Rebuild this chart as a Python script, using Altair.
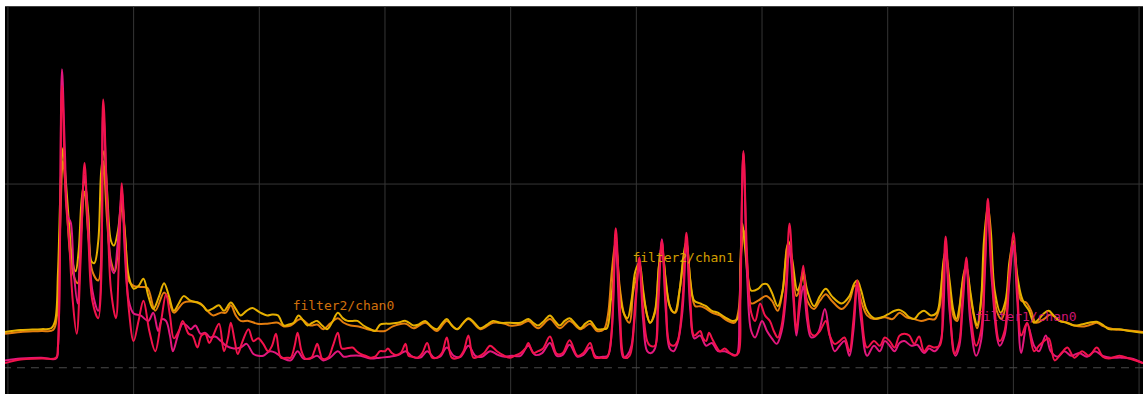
import altair as alt
import pandas as pd

# ---- filter1 / chan1 (crimson) ----
f1c1_bin = [-3, 13, 34, 49, 51, 55, 59, 62, 66, 70, 74, 78, 82, 86, 92, 97, 101, 105, 110, 113, 116, 119, 123,
            128, 133, 138, 144, 150, 156, 161, 165, 169, 174, 178, 184, 188, 193, 197, 201, 205, 209, 215, 220,
            224, 227, 231, 234, 239, 245, 250, 255, 260, 265, 269, 273, 278, 284, 288, 292, 295, 299, 303, 309,
            312, 315, 318, 320, 326, 331, 336, 340, 344, 351, 355, 359, 364, 369, 374, 379, 384, 387, 391, 395,
            400, 405, 408, 412, 417, 422, 427, 432, 437, 442, 447, 452, 459, 464, 469, 474, 479, 485, 491, 498,
            504, 511, 516, 522, 527, 530, 535, 540, 545, 552, 559, 565, 572, 580, 586, 593, 598, 604, 610, 614,
            619, 623, 628, 633, 638, 643, 647, 651, 654, 659, 662, 666, 670, 674, 678, 682, 687, 691, 695, 699,
            705, 708, 711, 714, 717, 721, 725, 730, 735, 740, 744, 746, 749, 753, 757, 761, 766, 771, 776, 780,
            784, 788, 792, 796, 800, 803, 806, 810, 814, 818, 822, 827, 833, 837, 842, 847, 852, 857, 861, 865,
            869, 875, 882, 888, 893, 898, 903, 908, 913, 918, 923, 928, 933, 938, 943, 949, 952, 955, 959, 964,
            969, 972, 976, 980, 986, 991, 995, 998, 1002, 1010, 1015, 1020, 1024, 1028, 1032, 1038, 1045, 1050,
            1055, 1060, 1066, 1073, 1079, 1086, 1094, 1101, 1109, 1115, 1121, 1132, 1142, 1156]
f1c1_lvl = [5, 9, 10, 11, 24, 307, 182, 143, 73, 37, 116, 223, 138, 73, 54, 292, 182, 84, 54, 116, 201, 138, 65,
            29, 51, 73, 40, 18, 51, 80, 57, 32, 40, 51, 37, 35, 22, 35, 37, 27, 35, 48, 18,
            32, 49, 29, 15, 29, 42, 29, 32, 26, 18, 24, 37, 11, 11, 11, 24, 38, 18, 10, 11,
            18, 26, 16, 10, 11, 24, 38, 21, 21, 22, 18, 15, 13, 11, 12, 18, 18, 21, 16, 14,
            16, 26, 13, 12, 11, 16, 27, 11, 11, 16, 33, 11, 11, 18, 35, 11, 12, 16, 24, 18,
            14, 11, 13, 16, 21, 27, 16, 18, 21, 34, 15, 16, 30, 13, 16, 27, 11, 11, 11, 29,
            152, 73, 11, 13, 51, 120, 62, 29, 24, 24, 62, 138, 73, 26, 24, 29, 73, 147, 73, 35,
            40, 32, 29, 38, 32, 24, 18, 21, 16, 13, 16, 73, 236, 116, 60, 51, 70, 57, 51, 40,
            33, 46, 84, 157, 84, 40, 73, 111, 62, 37, 35, 40, 51, 35, 26, 29, 33, 18, 51, 95,
            62, 22, 29, 24, 33, 29, 22, 35, 37, 35, 26, 34, 18, 24, 22, 24, 73, 143, 73, 15,
            29, 73, 120, 62, 24, 40, 116, 184, 105, 29, 40, 105, 147, 84, 35, 49, 18, 24,
            29, 32, 8, 16, 22, 11, 18, 13, 22, 12, 10, 13, 10, 5]

# ---- filter1 / chan0 (pink) ----
f1c0_bin = [-3, 13, 34, 49, 51, 55, 58, 61, 64, 67, 71, 74, 78, 82, 86, 92, 97, 101, 105, 108, 112, 116, 119,
            123, 128, 135, 143, 148, 153, 157, 161, 165, 168, 173, 178, 182, 186, 191, 196, 201, 206, 211, 217,
            222, 230, 237, 243, 250, 255, 260, 267, 273, 281, 288, 295, 301, 308, 315, 321, 328, 336, 342, 349,
            359, 369, 379, 389, 398, 405, 412, 420, 427, 434, 440, 447, 454, 461, 469, 476, 483, 491, 499, 506,
            513, 522, 530, 537, 544, 552, 559, 565, 572, 580, 586, 593, 599, 606, 611, 615, 619, 623, 627, 631,
            635, 639, 643, 647, 651, 655, 659, 662, 666, 670, 674, 678, 682, 687, 691, 695, 699, 705, 711, 717,
            723, 730, 737, 742, 745, 749, 753, 757, 761, 768, 773, 778, 783, 788, 792, 796, 800, 803, 806, 810,
            814, 818, 825, 832, 837, 842, 847, 852, 857, 861, 865, 869, 875, 882, 888, 893, 898, 903, 908, 913,
            920, 926, 933, 938, 944, 950, 955, 959, 965, 969, 972, 976, 980, 986, 991, 995, 998, 1002, 1010,
            1015, 1020, 1024, 1028, 1032, 1038, 1045, 1050, 1057, 1062, 1069, 1076, 1083, 1091, 1099, 1107,
            1115, 1123, 1134, 1144, 1156]
f1c0_lvl = [8, 10, 11, 10, 24, 325, 236, 165, 158, 105, 70, 138, 209, 149, 84, 62, 279, 182, 111, 103, 138, 192, 127,
            73, 59, 57, 51, 60, 40, 53, 51, 35, 18, 35, 48, 46, 42, 46, 37, 38, 33, 34, 29,
            24, 21, 22, 26, 15, 13, 13, 18, 16, 10, 8, 18, 10, 10, 13, 8, 11, 18, 12, 13,
            13, 10, 11, 12, 14, 18, 12, 11, 18, 11, 12, 22, 13, 12, 24, 13, 12, 18, 14, 12,
            13, 13, 24, 14, 16, 27, 13, 14, 25, 12, 14, 22, 12, 12, 13, 40, 138, 51, 11, 14,
            24, 73, 111, 51, 18, 16, 21, 73, 140, 62, 21, 18, 27, 62, 138, 62, 32, 35, 24, 27,
            18, 18, 15, 14, 62, 234, 95, 40, 33, 51, 40, 32, 26, 40, 73, 133, 73, 35, 62, 89,
            51, 33, 38, 64, 35, 18, 24, 29, 13, 40, 89, 51, 13, 24, 18, 29, 24, 18, 27, 29,
            24, 25, 16, 21, 18, 29, 133, 62, 13, 24, 62, 114, 51, 13, 29, 105, 176, 95, 24,
            35, 95, 133, 73, 16, 48, 24, 18, 35, 18, 12, 18, 13, 16, 12, 18,
            13, 11, 11, 10, 5]

# ---- filter2 / chan0 (orange) ----
f2c0_bin = [-3, 13, 34, 46, 50, 53, 56, 59, 63, 67, 71, 74, 78, 82, 86, 92, 97, 101, 105, 109, 113, 116, 120,
            123, 128, 135, 142, 150, 159, 164, 169, 179, 186, 196, 203, 209, 217, 222, 227, 232, 237, 245, 254,
            264, 275, 281, 288, 298, 308, 315, 321, 328, 336, 342, 349, 357, 366, 376, 384, 392, 405, 413, 425,
            437, 447, 457, 469, 481, 494, 506, 511, 522, 530, 540, 552, 562, 572, 583, 593, 600, 607, 611, 615,
            619, 623, 628, 633, 637, 643, 648, 654, 659, 663, 666, 671, 676, 680, 684, 691, 696, 700, 705, 710,
            717, 725, 733, 740, 744, 747, 750, 754, 757, 764, 772, 778, 784, 789, 794, 798, 803, 806, 810, 814,
            821, 827, 833, 839, 849, 857, 862, 865, 869, 875, 882, 893, 901, 908, 915, 923, 930, 938, 944, 949,
            952, 955, 959, 964, 967, 971, 976, 981, 987, 992, 995, 998, 1002, 1007, 1012, 1017, 1020, 1024, 1028,
            1032, 1037, 1042, 1047, 1055, 1062, 1071, 1079, 1086, 1096, 1103, 1109, 1116, 1126, 1137, 1147, 1156]
f2c0_lvl = [37, 39, 40, 41, 57, 149, 225, 192, 127, 100, 92, 138, 192, 143, 105, 95, 225, 160, 116, 105, 143, 176, 133,
            95, 89, 88, 87, 62, 82, 73, 60, 71, 72, 70, 62, 57, 60, 60, 68, 57, 51, 51, 48,
            48, 49, 45, 46, 53, 46, 47, 42, 48, 54, 49, 46, 45, 42, 40, 40, 45, 48, 43, 49,
            40, 51, 42, 53, 42, 49, 48, 46, 47, 51, 43, 53, 43, 51, 42, 48, 40, 42, 57, 105,
            138, 89, 57, 49, 84, 108, 73, 49, 60, 111, 133, 84, 62, 60, 84, 133, 84, 67, 67, 65,
            60, 57, 51, 49, 62, 127, 149, 95, 70, 73, 78, 73, 62, 84, 133, 116, 78, 84, 100, 73,
            64, 73, 80, 73, 64, 73, 89, 89, 73, 57, 53, 55, 53, 60, 55, 53, 51, 53, 53, 67,
            105, 122, 84, 53, 51, 84, 108, 73, 43, 84, 138, 171, 116, 62, 53, 73, 105, 133, 95,
            73, 71, 62, 49, 53, 58, 51, 49, 46, 45, 47, 49, 45, 42, 41, 40, 39]

# ---- filter2 / chan1 (gold) ----
f2c1_bin = [-3, 13, 34, 44, 48, 51, 54, 56, 59, 62, 66, 69, 72, 75, 78, 82, 85, 88, 92, 95, 98, 101, 105,
            108, 112, 116, 119, 123, 128, 133, 138, 143, 148, 154, 159, 164, 169, 174, 179, 186, 193, 199, 203,
            208, 215, 220, 227, 232, 237, 243, 249, 257, 264, 269, 275, 281, 286, 291, 296, 301, 305, 310, 315,
            320, 325, 330, 336, 341, 346, 351, 356, 362, 369, 374, 379, 384, 389, 397, 405, 413, 418, 425, 431,
            437, 442, 447, 452, 458, 463, 469, 475, 481, 488, 494, 501, 511, 522, 530, 535, 540, 546, 552, 557,
            562, 567, 572, 577, 583, 588, 593, 600, 606, 610, 614, 616, 619, 623, 627, 631, 635, 639, 643, 647,
            651, 654, 659, 663, 666, 670, 674, 679, 684, 688, 691, 695, 699, 705, 711, 717, 723, 730, 738, 743,
            746, 748, 751, 754, 757, 764, 769, 773, 778, 784, 789, 792, 795, 799, 804, 807, 810, 814, 821, 827,
            833, 839, 849, 857, 862, 865, 869, 875, 882, 890, 896, 903, 908, 913, 918, 923, 928, 933, 940, 946,
            950, 953, 955, 959, 963, 966, 970, 973, 976, 980, 984, 987, 991, 994, 998, 1001, 1005, 1011, 1016,
            1020, 1024, 1028, 1032, 1035, 1040, 1045, 1050, 1055, 1060, 1065, 1071, 1078, 1086, 1093, 1101,
            1109, 1116, 1121, 1132, 1142, 1156]
f2c1_lvl = [39, 41, 42, 43, 51, 105, 209, 239, 203, 160, 114, 105, 127, 182, 203, 165, 116, 114, 138, 214, 236, 192, 138,
            133, 149, 182, 149, 100, 86, 89, 97, 78, 64, 78, 92, 78, 62, 70, 78, 73, 71, 67, 62,
            64, 68, 62, 71, 64, 57, 62, 65, 60, 57, 58, 57, 46, 47, 49, 57, 51, 46, 49, 51,
            46, 42, 49, 60, 54, 51, 51, 51, 46, 42, 40, 47, 48, 48, 49, 51, 46, 47, 51, 45,
            42, 48, 53, 46, 42, 48, 54, 49, 43, 47, 51, 49, 49, 49, 53, 49, 46, 51, 57, 51,
            46, 51, 54, 49, 43, 48, 51, 42, 42, 43, 73, 91, 138, 84, 60, 54, 73, 105, 114, 84,
            57, 49, 62, 111, 129, 95, 67, 60, 84, 122, 138, 95, 73, 70, 67, 62, 60, 55, 51, 53,
            116, 157, 127, 95, 84, 86, 91, 91, 82, 67, 84, 116, 138, 116, 84, 91, 105, 84, 67, 78,
            86, 78, 70, 78, 92, 95, 84, 62, 54, 55, 58, 62, 63, 60, 55, 53, 59, 62, 57, 60,
            84, 118, 127, 95, 62, 53, 73, 100, 111, 84, 57, 46, 73, 138, 176, 149, 84, 60, 73,
            116, 138, 100, 78, 70, 62, 49, 53, 59, 62, 57, 51, 49, 46, 47, 49,
            50, 46, 42, 42, 40, 38]

# channel names, stroke colours and in-plot label anchors
names = ["filter2/chan0", "filter2/chan1", "filter1/chan0", "filter1/chan1"]
colors = ["#e47d0e", "#e6b000", "#e2177e", "#f2134b"]
label_names = ["filter2/chan0", "filter2/chan1", "filter1/chan0"]
label_bin = [290, 636, 985]
label_lvl = [67, 120, 55]

# grid positions (bins every 128, one level line)
grid_bins = list(range(0, 1153, 128))
grid_levels = [200, 400]

series = {
    "filter2/chan0": (f2c0_bin, f2c0_lvl),
    "filter2/chan1": (f2c1_bin, f2c1_lvl),
    "filter1/chan0": (f1c0_bin, f1c0_lvl),
    "filter1/chan1": (f1c1_bin, f1c1_lvl),
}

x_scale = alt.Scale(domain=[-3, 1156], nice=False, zero=False)
y_scale = alt.Scale(domain=[-29.3, 393.5], nice=False, zero=False)
color_scale = alt.Scale(domain=names, range=colors)

vgrid = alt.Chart(pd.DataFrame({"bin": grid_bins})).mark_rule(
    color="#353535", strokeWidth=1
).encode(x=alt.X("bin:Q", scale=x_scale, axis=None))

hgrid = alt.Chart(pd.DataFrame({"level": grid_levels})).mark_rule(
    color="#353535", strokeWidth=1, clip=True
).encode(y=alt.Y("level:Q", scale=y_scale, axis=None))

zero_rule = alt.Chart(pd.DataFrame({"level": [0]})).mark_rule(
    color="#4a4a4a", strokeDash=[8, 6], strokeWidth=1.2
).encode(y=alt.Y("level:Q", scale=y_scale, axis=None))

layers = [vgrid, hgrid, zero_rule]
for name in names:
    xs, ys = series[name]
    df = pd.DataFrame({"bin": xs, "level": ys, "series": name})
    layers.append(
        alt.Chart(df).mark_line(interpolate="catmull-rom", strokeWidth=2, clip=True).encode(
            x=alt.X("bin:Q", scale=x_scale, axis=None),
            y=alt.Y("level:Q", scale=y_scale, axis=None),
            color=alt.Color("series:N", scale=color_scale, legend=None),
        )
    )

labels_df = pd.DataFrame({"series": label_names, "bin": label_bin, "level": label_lvl})
labels = alt.Chart(labels_df).mark_text(
    align="left", baseline="middle", font="DejaVu Sans Mono", fontSize=13, opacity=0.9
).encode(
    x=alt.X("bin:Q", scale=x_scale, axis=None),
    y=alt.Y("level:Q", scale=y_scale, axis=None),
    text="series:N",
    color=alt.Color("series:N", scale=color_scale, legend=None),
)
layers.append(labels)

chart = alt.layer(*layers).properties(
    width=1140,
    height=389,
    background="white",
    padding={"left": 4, "top": 5, "right": 0, "bottom": 0},
).configure_view(
    fill="black", stroke=None
)

chart.save("out.html", embed_options={"renderer": "svg", "actions": False})
